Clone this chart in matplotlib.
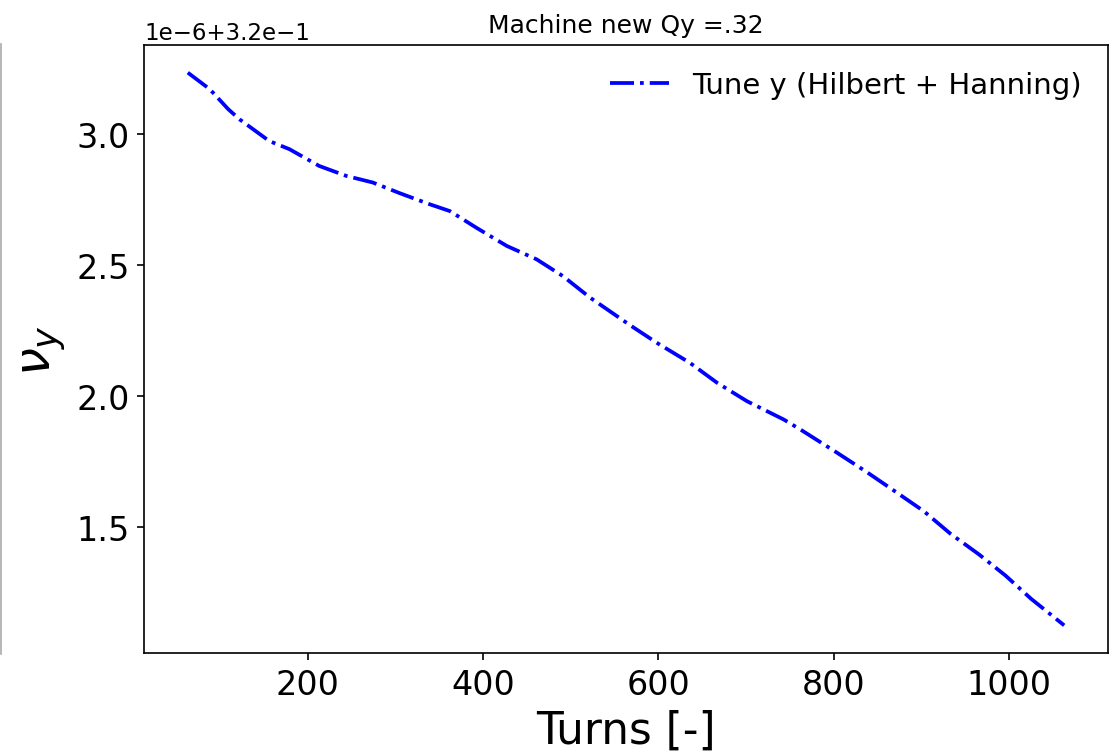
from matplotlib import pyplot as plt
from matplotlib.lines import Line2D
import numpy as np

# tune, in units of 1e-6 above 0.32
turns = [63, 88, 109, 122, 156, 179, 213, 244, 274, 305, 339, 362, 392, 427,
         461, 491, 522, 568, 598, 636, 667, 701, 743, 762, 804, 838, 870, 903,
         933, 966, 996, 1025, 1063]
tune_y = [3.234, 3.171, 3.095, 3.056, 2.973, 2.942, 2.878, 2.840, 2.815,
          2.774, 2.732, 2.706, 2.643, 2.573, 2.522, 2.458, 2.376, 2.270,
          2.204, 2.127, 2.051, 1.981, 1.911, 1.873, 1.784, 1.710, 1.637,
          1.561, 1.476, 1.396, 1.316, 1.228, 1.126]

nu_y = 0.32 + np.array(tune_y) * 1e-6

fig = plt.figure(figsize=(1115 / 150, 753 / 150), dpi=150)
ax = fig.add_axes([144 / 1115, 1 - 654 / 753, 964 / 1115, 608 / 753])

ax.plot(turns, nu_y, '-.', color='blue', lw=1.8,
        label='Tune y (Hilbert + Hanning)')
ax.set_title('Machine new Qy =.32', fontsize=12)
ax.set_xlabel('Turns [-]', fontsize=21)
ax.set_ylabel(r'$\nu_y$', fontsize=24)
ax.tick_params(labelsize=16)
ax.yaxis.get_offset_text().set_fontsize(11)
ax.legend(frameon=False, fontsize=14)

# thin border left over at the left edge of the screenshot
fig.add_artist(Line2D([0.0008, 0.0008], [1 - 655 / 753, 1 - 45 / 753],
                      transform=fig.transFigure, color='#aaaaaa', lw=0.8))

fig.savefig('out.png', dpi=150)
